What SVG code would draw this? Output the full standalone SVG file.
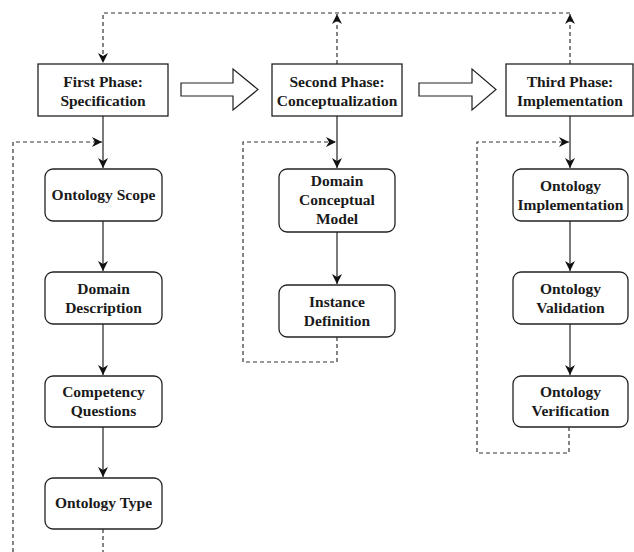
<svg xmlns="http://www.w3.org/2000/svg" width="634" height="552" viewBox="0 0 634 552" font-family="Liberation Serif, Times New Roman, serif" font-weight="bold">
<style>
.bg{fill:#fff}
.ph{fill:#fff;stroke:#222;stroke-width:1.3}
.nd{fill:#fff;stroke:#222;stroke-width:1.3}
.t{font-size:15.5px;fill:#1a1a1a;text-anchor:middle}
.s{fill:none;stroke:#333;stroke-width:1.3}
.d{fill:none;stroke:#333;stroke-width:1.2;stroke-dasharray:4 3}
.blk{fill:#fff;stroke:#222;stroke-width:1.2}
</style>
<defs>
<marker id="ah" markerUnits="userSpaceOnUse" markerWidth="11" markerHeight="11" viewBox="0 0 11 11" refX="10" refY="5.5" orient="auto">
<path d="M0,0.5 L10,5.5 L0,10.5 L3,5.5 Z" fill="#111"/>
</marker>
</defs>
<rect class="bg" x="0" y="0" width="634" height="552"/>
<g id="connectors">
<path class="d" d="M570,13 H103 V63" marker-end="url(#ah)"/>
<path class="d" d="M337,64 V14" marker-end="url(#ah)"/>
<path class="d" d="M570,64 V14" marker-end="url(#ah)"/>
<polygon class="blk" points="181,83 233,83 233,69 258,89.5 233,110 233,96 181,96"/>
<polygon class="blk" points="419,83 472,83 472,69 496,89.5 472,110 472,96 419,96"/>
<path class="s" d="M103,116 V168" marker-end="url(#ah)"/>
<path class="s" d="M103,221 V271" marker-end="url(#ah)"/>
<path class="s" d="M103,324 V375" marker-end="url(#ah)"/>
<path class="s" d="M103,427 V477" marker-end="url(#ah)"/>
<path class="s" d="M337,116 V168" marker-end="url(#ah)"/>
<path class="s" d="M337,232 V284" marker-end="url(#ah)"/>
<path class="s" d="M570,116 V168" marker-end="url(#ah)"/>
<path class="s" d="M570,221 V271" marker-end="url(#ah)"/>
<path class="s" d="M570,324 V375" marker-end="url(#ah)"/>
<path class="d" d="M103,529 V552"/>
<path class="d" d="M13,552 V142 H102" marker-end="url(#ah)"/>
<path class="d" d="M337,337 V362 H243 V142 H336" marker-end="url(#ah)"/>
<path class="d" d="M569,427 V453 H477 V142 H569" marker-end="url(#ah)"/>
</g>
<g id="phase1"><rect class="ph" x="38" y="64" width="130" height="52"/><text class="t" x="103" y="86.5">First Phase:</text><text class="t" x="103" y="105.5">Specification</text></g>
<g id="phase2"><rect class="ph" x="272" y="64" width="130" height="52"/><text class="t" x="337" y="86.5">Second Phase:</text><text class="t" x="337" y="105.5">Conceptualization</text></g>
<g id="phase3"><rect class="ph" x="506" y="64" width="127" height="52"/><text class="t" x="570" y="86.5">Third Phase:</text><text class="t" x="570" y="105.5">Implementation</text></g>
<g id="scope"><rect class="nd" x="45" y="169" width="117" height="52" rx="8"/><text class="t" x="103.5" y="199.5">Ontology Scope</text></g>
<g id="domdesc"><rect class="nd" x="45" y="272" width="117" height="52" rx="8"/><text class="t" x="103.5" y="293.5">Domain</text><text class="t" x="103.5" y="312.5">Description</text></g>
<g id="compq"><rect class="nd" x="45" y="376" width="117" height="51" rx="8"/><text class="t" x="103.5" y="397">Competency</text><text class="t" x="103.5" y="416">Questions</text></g>
<g id="otype"><rect class="nd" x="45" y="478" width="117" height="51" rx="8"/><text class="t" x="103.5" y="508">Ontology Type</text></g>
<g id="dcm"><rect class="nd" x="279" y="169" width="116" height="63" rx="8"/><text class="t" x="337" y="186">Domain</text><text class="t" x="337" y="205">Conceptual</text><text class="t" x="337" y="224">Model</text></g>
<g id="instdef"><rect class="nd" x="279" y="285" width="116" height="52" rx="8"/><text class="t" x="337" y="306.5">Instance</text><text class="t" x="337" y="325.5">Definition</text></g>
<g id="oimpl"><rect class="nd" x="513" y="169" width="115" height="52" rx="8"/><text class="t" x="570.5" y="190.5">Ontology</text><text class="t" x="570.5" y="209.5">Implementation</text></g>
<g id="oval"><rect class="nd" x="513" y="272" width="115" height="52" rx="8"/><text class="t" x="570.5" y="293.5">Ontology</text><text class="t" x="570.5" y="312.5">Validation</text></g>
<g id="over"><rect class="nd" x="513" y="376" width="115" height="51" rx="8"/><text class="t" x="570.5" y="397">Ontology</text><text class="t" x="570.5" y="416">Verification</text></g>
</svg>
